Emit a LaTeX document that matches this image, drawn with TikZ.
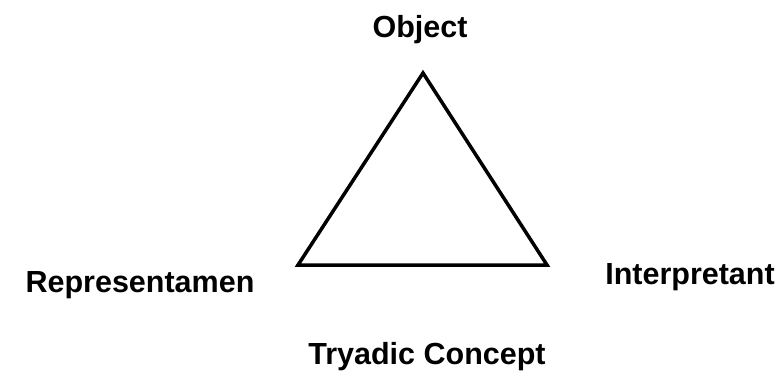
\documentclass[tikz,border=0pt]{standalone}
\usepackage{fontspec}
\setmainfont{Liberation Sans}
\begin{document}
\begin{tikzpicture}[x=1pt,y=-1pt,
  lbl/.style={font=\bfseries\fontsize{30.5}{36}\selectfont, inner sep=0pt, anchor=base},
  edge/.style={line width=3.5pt, line join=miter}]
\useasboundingbox (0,0) rectangle (781,374);
\coordinate (top) at (423,73);
\coordinate (left) at (298,265);
\coordinate (right) at (547,265);
\draw[edge] (top) -- (left) -- (right) -- cycle;
\node[lbl] (obj) at (420,38) {Object};
\node[lbl] (rep) at (140,292) {Representamen};
\node[lbl] (int) at (690,284) {Interpretant};
\node[lbl] (con) at (427,364) {Tryadic Concept};
\end{tikzpicture}
\end{document}
